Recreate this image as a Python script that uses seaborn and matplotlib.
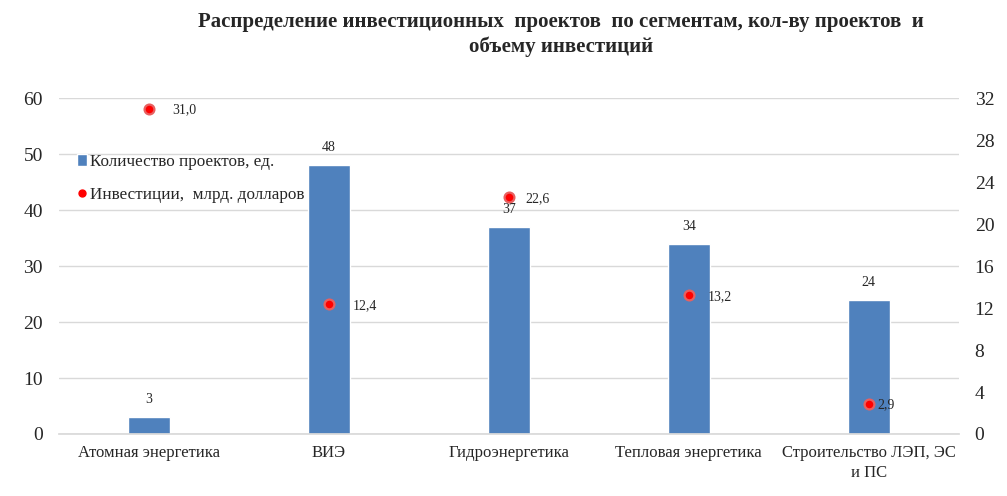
import numpy as np
import pandas as pd
import matplotlib
matplotlib.use("Agg")
import matplotlib.pyplot as plt
import seaborn as sns
from matplotlib.lines import Line2D
from matplotlib.patches import Patch

categories = ["Атомная энергетика", "ВИЭ", "Гидроэнергетика",
              "Тепловая энергетика", "Строительство ЛЭП, ЭС\nи ПС"]
projects = [3, 48, 37, 34, 24]
investments = [31.0, 12.4, 22.6, 13.2, 2.9]

bar_color = "#4F81BD"
dot_color = "#FF0000"
# label offsets to the right of each dot, in points (as placed in the original)
dot_label_dx = [17, 17, 12, 14, 6]

sns.set_theme(style="white")
plt.rcParams['font.family'] = ['Liberation Serif', 'DejaVu Serif']

df = pd.DataFrame({"cat": categories, "proj": projects, "inv": investments})
df["pos"] = np.arange(len(df))

fig = plt.figure(figsize=(10.07, 4.96), dpi=100)
ax = fig.add_axes([0.0586, 0.125, 0.8934, 0.677])

sns.barplot(data=df, x="cat", y="proj", color=bar_color, width=0.233,
            saturation=1, ax=ax)
ax.set_xlim(-0.5, len(df) - 0.5)
ax.set_ylim(0, 60)
ax.set_yticks(range(0, 61, 10))
ax.yaxis.grid(True, color="#D9D9D9", linewidth=1)
ax.set_axisbelow(True)
ax.set_xlabel("")
ax.set_ylabel("")
for s in ["top", "right", "left"]:
    ax.spines[s].set_visible(False)
ax.spines["bottom"].set_color("#D9D9D9")
ax.tick_params(axis="y", labelsize=14, length=0, pad=11.5)
ax.tick_params(axis="x", labelsize=12, length=0, pad=8)
for lbl in ax.get_xticklabels():
    lbl.set_linespacing(1.35)
for p, v in zip(df["pos"], df["proj"]):
    ax.annotate(str(v), (p, v), xytext=(0, 8), textcoords="offset points",
                ha="center", va="bottom", fontsize=10)

ax2 = ax.twinx()
sns.scatterplot(data=df, x="pos", y="inv", color=dot_color, s=50,
                edgecolor="#E86060", linewidth=1.6, ax=ax2, zorder=5)
ax2.set_ylim(0, 32)
ax2.set_yticks(range(0, 33, 4))
ax2.set_ylabel("")
ax2.set_xlabel("")
for s in ["top", "right", "left", "bottom"]:
    ax2.spines[s].set_visible(False)
ax2.tick_params(axis="y", labelsize=14, length=0, pad=11.5)
for p, v, dx in zip(df["pos"], df["inv"], dot_label_dx):
    ax2.annotate(f"{v:.1f}".replace(".", ","), (p, v), xytext=(dx, -1),
                 textcoords="offset points", ha="left", va="center",
                 fontsize=10)
ax.set_xlim(-0.5, len(df) - 0.5)

handles = [Patch(facecolor=bar_color, label="Количество проектов, ед."),
           Line2D([], [], marker="o", linestyle="", color=dot_color,
                  markersize=5, label="Инвестиции,  млрд. долларов")]
ax.legend(handles=handles, loc="upper left", bbox_to_anchor=(0.012, 0.855),
          frameon=False, fontsize=12.3, handlelength=0.6, handletextpad=0.2,
          labelspacing=1.0, borderaxespad=0)

fig.suptitle("Распределение инвестиционных  проектов  по сегментам, кол-ву проектов  и\nобъему инвестиций",
             x=0.557, y=0.975, fontsize=15, fontweight="bold", linespacing=1.25)

fig.savefig("out.png", dpi=100)
